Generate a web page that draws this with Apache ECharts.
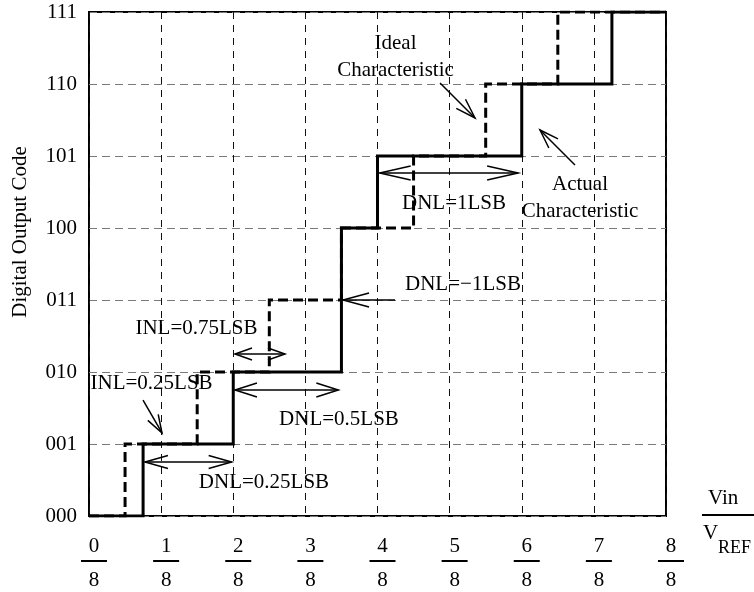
<!DOCTYPE html>
<html><head><meta charset="utf-8">
<script src="https://cdn.jsdelivr.net/npm/echarts@6/dist/echarts.min.js"></script>
<style>html,body{margin:0;padding:0;background:#fff}#c{width:754px;height:592px}</style>
</head><body><div id="c"></div>
<script>
// ---- data ----
const codeLabels = ['000','001','010','011','100','101','110','111'];
const xNumerators = ['0','1','2','3','4','5','6','7','8'];
const xDenominator = '8';
// input (in units of VREF/8) where the output changes from code k-1 to code k, k = 1..7
const idealTransitions  = [0.5, 1.5, 2.5, 3.5, 4.5, 5.5, 6.5];
const actualTransitions = [0.75, 2, 3.5, 3.5, 4, 6, 7.25];
const xMax = 8;

function stairs(tr) {
  const pts = [[0, 0]];
  tr.forEach((t, i) => { pts.push([t, i]); pts.push([t, i + 1]); });
  pts.push([xMax, tr.length]);
  return pts;
}

// ---- annotations (data coordinates) ----
const annArrows = [
  {from:[0.776,0.75], to:[1.978,0.75], both:true, L:23, W:6.5},   // DNL=0.25LSB
  {from:[2.024,1.75], to:[3.457,1.75], both:true, L:22, W:7},     // DNL=0.5LSB
  {from:[2.024,2.25], to:[2.717,2.25], both:true, L:17, W:6},     // INL=0.75LSB
  {from:[4.03,4.764], to:[5.95,4.764], both:true, L:31, W:7},     // DNL=1LSB
  {from:[4.243,3.0], to:[3.522,3.0], both:false, L:26, W:7},      // DNL=-1LSB
  {from:[0.749,1.611], to:[1.012,1.153], both:false, L:18, W:6},  // INL=0.25LSB
  {from:[4.867,6.014], to:[5.352,5.528], both:false, L:20, W:6.5},// Ideal
  {from:[6.738,4.875], to:[6.253,5.361], both:false, L:19, W:6.5} // Actual
];
const annTexts = [
  {text:'DNL=0.25LSB', at:[2.426,0.472]},
  {text:'DNL=0.5LSB', at:[3.466,1.347]},
  {text:'INL=0.75LSB', at:[1.490,2.611]},
  {text:'INL=0.25LSB', at:[0.867,1.840]},
  {text:'DNL=\u22121LSB', at:[5.185,3.222]},
  {text:'DNL=1LSB', at:[5.061,4.347]},
  {text:'Ideal\nCharacteristic', at:[4.25,6.382]},
  {text:'Actual\nCharacteristic', at:[6.808,4.41]}
];

const FONT = '"Liberation Serif", "Times New Roman", serif';

const chart = echarts.init(document.getElementById('c'), null, {renderer:'canvas'});
chart.setOption({
  animation: false,
  backgroundColor: '#fff',
  grid: {left: 89, right: 88, top: 12, bottom: 76, show: true, borderColor: '#000', borderWidth: 2,
         backgroundColor: 'transparent', containLabel: false, outerBoundsMode: 'none'},
  xAxis: {
    type: 'value', min: 0, max: xMax, interval: 1,
    axisLine: {show: false}, axisTick: {show: false},
    splitLine: {show: true, lineStyle: {color: '#111', width: 1, type: [7, 6]}},
    axisLabel: {
      margin: 16, padding: [0, 0, 0, 10],
      formatter: v => '{n|' + xNumerators[v] + '}\n{b| }\n{d|' + xDenominator + '}',
      rich: {
        n: {fontSize: 21, fontFamily: FONT, color: '#000', lineHeight: 28},
        b: {width: 26, height: 2, lineHeight: 2, fontSize: 2, backgroundColor: '#000'},
        d: {fontSize: 21, fontFamily: FONT, color: '#000', lineHeight: 36}
      }
    }
  },
  yAxis: {
    type: 'value', min: 0, max: codeLabels.length - 1, interval: 1,
    name: 'Digital Output Code', nameLocation: 'middle', nameGap: 58, nameRotate: 90,
    nameTextStyle: {fontSize: 21, fontFamily: FONT, color: '#000', padding: [0, 0, 0, 64]},
    axisLine: {show: false}, axisTick: {show: false},
    splitLine: {show: true, lineStyle: {color: '#7a7a7a', width: 1.2, type: [8, 5]}},
    axisLabel: {margin: 12, fontSize: 21, fontFamily: FONT, color: '#000', formatter: v => codeLabels[v]}
  },
  graphic: [
    {type: 'text', left: 708, top: 488, style: {text: 'Vin', font: '21px ' + FONT, fill: '#000'}},
    {type: 'rect', left: 702, top: 514, shape: {width: 52, height: 2}, style: {fill: '#000'}},
    {type: 'text', left: 703, top: 523, style: {text: 'V', font: '21px ' + FONT, fill: '#000'}},
    {type: 'text', left: 718, top: 539, style: {text: 'REF', font: '18px ' + FONT, fill: '#000'}}
  ],
  series: [
    {
      name: 'Ideal', type: 'line', data: stairs(idealTransitions), symbol: 'none', z: 3,
      lineStyle: {color: '#000', width: 3, type: [10, 5], cap: 'butt', join: 'miter'}
    },
    {
      name: 'Actual', type: 'line', data: stairs(actualTransitions), symbol: 'none', z: 4,
      lineStyle: {color: '#000', width: 3, cap: 'butt', join: 'miter'}
    },
    {
      name: 'notes', type: 'custom', data: [[0, 0]], z: 5, clip: false, silent: true,
      renderItem: function (params, api) {
        const children = [];
        function head(tip, from, L, W) {
          const dx = tip[0] - from[0], dy = tip[1] - from[1];
          const len = Math.hypot(dx, dy), ux = dx / len, uy = dy / len;
          const bx = tip[0] - ux * L, by = tip[1] - uy * L;
          const px = -uy * W, py = ux * W;
          return {type: 'polyline', shape: {points: [[bx + px, by + py], tip, [bx - px, by - py]]},
                  style: {stroke: '#000', lineWidth: 1.5, fill: 'none'}};
        }
        annArrows.forEach(a => {
          const p1 = api.coord(a.from), p2 = api.coord(a.to);
          children.push({type: 'line', shape: {x1: p1[0], y1: p1[1], x2: p2[0], y2: p2[1]},
                         style: {stroke: '#000', lineWidth: 1.5}});
          children.push(head(p2, p1, a.L, a.W));
          if (a.both) children.push(head(p1, p2, a.L, a.W));
        });
        annTexts.forEach(t => {
          const p = api.coord(t.at);
          children.push({type: 'text', x: p[0], y: p[1],
            style: {text: t.text, align: 'center', verticalAlign: 'middle',
                    font: '21px ' + FONT, fill: '#000', lineHeight: 27}});
        });
        return {type: 'group', children: children};
      }
    }
  ]
});
</script>
</body></html>
